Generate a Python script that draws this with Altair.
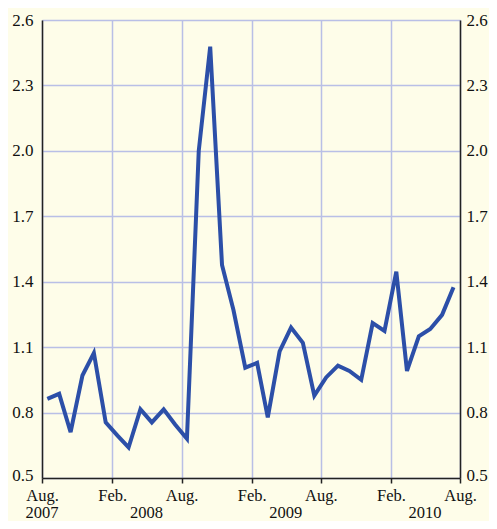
import altair as alt
import pandas as pd

# Monthly values, Aug 2007 .. Jul 2010 (plotted mid-month)
months = pd.date_range("2007-08-01", periods=36, freq="MS") + pd.Timedelta(days=14)
values = [0.863, 0.886, 0.71, 0.97, 1.073, 0.755, 0.694, 0.64, 0.815, 0.755, 0.815, 0.745,
          0.68, 2.0, 2.478, 1.477, 1.27, 1.006, 1.028, 0.778, 1.081, 1.19, 1.12, 0.878,
          0.961, 1.015, 0.991, 0.95, 1.21, 1.174, 1.446, 0.991, 1.15, 1.183, 1.248, 1.375]

y_ticks = [0.5, 0.8, 1.1, 1.4, 1.7, 2.0, 2.3, 2.6]
x_tick_dates = [(2007, 8), (2008, 2), (2008, 8), (2009, 2), (2009, 8), (2010, 2), (2010, 8)]
year_labels = ["2007", "2008", "2009", "2010"]
year_dates = ["2007-08-01", "2008-05-01", "2009-05-01", "2010-05-01"]

df = pd.DataFrame({"date": [d.strftime("%Y-%m-%d") for d in months], "value": values})
years_df = pd.DataFrame({"date": year_dates, "label": year_labels})

FONT = "Liberation Serif"
FS = 17
FSX = 16.5
W, H = 418, 458

xscale = alt.Scale(type="utc",
                   domain=[alt.DateTime(year=2007, month=8, date=1, utc=True),
                           alt.DateTime(year=2010, month=8, date=1, utc=True)])
xvals = [alt.DateTime(year=y, month=m, date=1, utc=True) for y, m in x_tick_dates]
yscale = alt.Scale(domain=[0.5, 2.6], nice=False, zero=False)

bottom_lift = {"condition": {"test": "datum.value <= 0.5", "value": -3}, "value": 0}

line = alt.Chart(df).mark_line(color="#2c4fa8", strokeWidth=4, strokeJoin="miter").encode(
    x=alt.X("date:T", scale=xscale, title=None,
            axis=alt.Axis(values=xvals, labelExpr="utcFormat(datum.value, '%b') + '.'",
                          grid=True, gridColor="#b9bfe6", gridWidth=1.5,
                          domainColor="#222", domainWidth=1.5,
                          ticks=True, tickColor="#222", tickWidth=1.5, tickSize=5,
                          labelPadding=4, labelFont=FONT, labelFontSize=FSX, labelColor="#111",
                          labelFlush=False)),
    y=alt.Y("value:Q", scale=yscale, title=None,
            axis=alt.Axis(values=y_ticks, format=".1f", grid=True, gridColor="#b9bfe6", gridWidth=1.5,
                          domainColor="#222", domainWidth=1.5, ticks=False, labelPadding=9,
                          labelOffset=bottom_lift,
                          labelFont=FONT, labelFontSize=FS, labelColor="#111"))
)

right = alt.Chart(df).mark_line(opacity=0).encode(
    x=alt.X("date:T", scale=xscale),
    y=alt.Y("value:Q", scale=yscale, title=None,
            axis=alt.Axis(orient="right", values=y_ticks, format=".1f", grid=False,
                          domainColor="#222", domainWidth=1.5, ticks=False, labelPadding=6,
                          labelOffset=bottom_lift,
                          labelFont=FONT, labelFontSize=FS, labelColor="#111"))
)

years = alt.Chart(years_df).mark_text(font=FONT, fontSize=FSX, color="#111", baseline="top",
                                      align="center").encode(
    x=alt.X("date:T", scale=xscale),
    y=alt.value(H + 27),
    text="label:N"
)

chart = alt.layer(line, right, years).resolve_axis(y="independent").properties(
    width=W, height=H,
    padding={"left": 34, "top": 12, "right": 29, "bottom": 43},
    autosize=alt.AutoSizeParams(type="none"),
    background="#fefde9"
).configure_view(stroke=None)

chart.save("out.html", embed_options={"renderer": "svg", "actions": False})
